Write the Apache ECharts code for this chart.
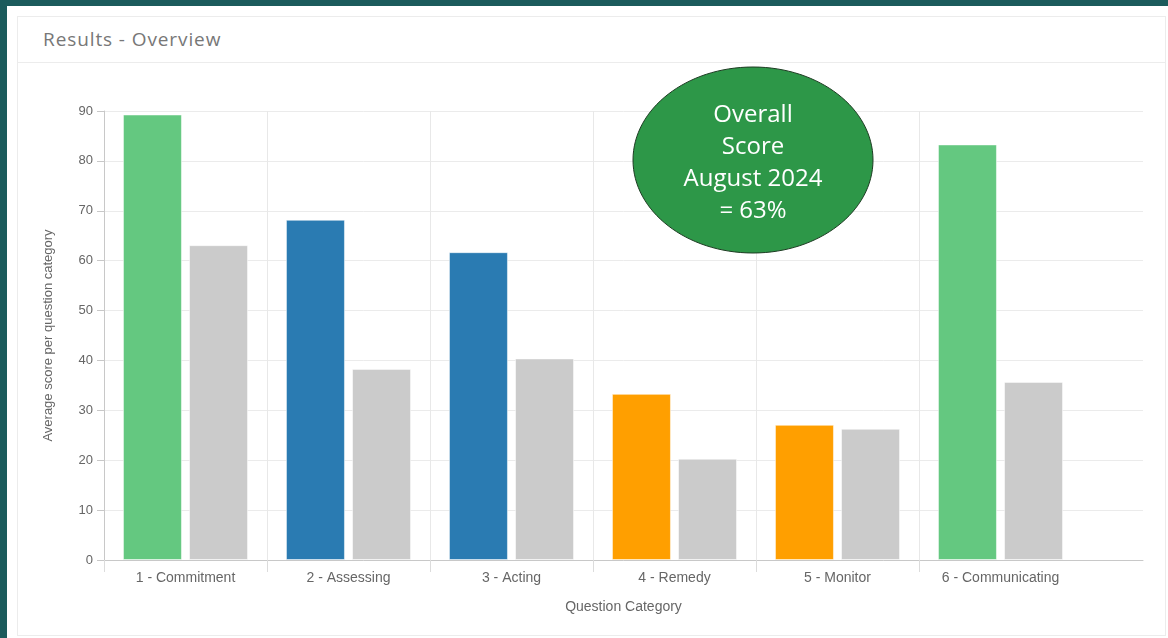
<!DOCTYPE html>
<html>
<head>
<meta charset="utf-8">
<script src="https://cdn.jsdelivr.net/npm/echarts@6/dist/echarts.min.js"></script>
<style>
  html, body { margin: 0; padding: 0; }
  body { width: 1168px; height: 638px; background: #1b5b5c; position: relative; overflow: hidden; }
  #panel { position: absolute; left: 7px; top: 6px; right: 0; bottom: 0; background: #fff; }
  #card { position: absolute; left: 17px; top: 16px; width: 1149px; height: 620px; border: 1px solid #ececec; box-sizing: border-box; }
  #head { position: absolute; left: 0; top: 0; right: 0; height: 45px; border-bottom: 1px solid #ececec; }
  #head span { position: absolute; left: 25px; top: 9px; font-family: "Open Sans", sans-serif; font-size: 19px; letter-spacing: 0.9px; color: #777; }
  #chart { position: absolute; left: 0; top: 0; width: 1168px; height: 638px; }
</style>
</head>
<body>
<div id="panel"></div>
<div id="card"><div id="head"><span>Results - Overview</span></div></div>
<div id="chart"></div>
<script>
// 数据
var categories = ["1 - Commitment", "2 - Assessing", "3 - Acting", "4 - Remedy", "5 - Monitor", "6 - Communicating"];
var scores = [89.3, 68.2, 61.7, 33.3, 27.1, 83.3];
var benchmark = [63.1, 38.3, 40.4, 20.3, 26.3, 35.7];
var barColors = ["#64c880", "#2a7bb2", "#2a7bb2", "#ff9f00", "#ff9f00", "#64c880"];
var yTicks = { min: 0, max: 90, step: 10 };
var noteLines = ["Overall", "Score", "August 2024", "= 63%"];

var chart = echarts.init(document.getElementById("chart"));

var font = "Liberation Sans, Arial, sans-serif";
var plotLeft = 104, catWidth = 163, plotWidth = 1039;

var option = {
  animation: false,
  grid: [
    { left: plotLeft, top: 111, width: catWidth * categories.length, height: 449 },   // 柱子
    { left: plotLeft, top: 111, width: plotWidth, height: 449 }                        // 横向网格线 + x轴线
  ],
  xAxis: [
    {
      type: "category",
      gridIndex: 0,
      data: categories,
      axisLine: { show: false },
      axisTick: { show: false },
      axisLabel: { color: "#666", fontSize: 14, fontFamily: font, margin: 11 },
      splitLine: { show: true, showMaxLine: false, lineStyle: { color: "#e8e8e8" } }
    },
    {
      type: "value",
      gridIndex: 1,
      min: 0,
      max: plotWidth / catWidth,
      axisLine: { show: true, onZero: false, lineStyle: { color: "#c8c8c8" } },
      axisTick: {
        show: true,
        length: 12,
        customValues: categories.map(function (c, i) { return i; }),
        lineStyle: { color: "#dcdcdc" }
      },
      axisLabel: { show: false },
      splitLine: { show: false },
      name: "Question Category",
      nameLocation: "middle",
      nameGap: 40,
      nameTextStyle: { color: "#666", fontSize: 14, fontFamily: font }
    }
  ],
  yAxis: [
    {
      type: "value",
      gridIndex: 0,
      min: yTicks.min,
      max: yTicks.max,
      interval: yTicks.step,
      axisLine: { show: true, lineStyle: { color: "#c8c8c8" } },
      axisTick: { show: true, length: 7, lineStyle: { color: "#c8c8c8" } },
      axisLabel: { color: "#666", fontSize: 13, fontFamily: font, margin: 11 },
      splitLine: { show: false },
      name: "Average score per question category",
      nameLocation: "middle",
      nameGap: 49,
      nameTextStyle: { color: "#666", fontSize: 13, fontFamily: font }
    },
    {
      type: "value",
      gridIndex: 1,
      min: yTicks.min,
      max: yTicks.max,
      interval: yTicks.step,
      axisLine: { show: false },
      axisTick: { show: false },
      axisLabel: { show: false },
      splitLine: { show: true, lineStyle: { color: "#ebebeb" } }
    }
  ],
  series: [
    {
      name: "Score",
      type: "bar",
      xAxisIndex: 0,
      yAxisIndex: 0,
      barWidth: 59,
      barGap: "12%",
      data: scores.map(function (v, i) {
        return { value: v, itemStyle: { color: barColors[i], borderColor: "rgba(255,255,255,0.5)", borderWidth: 1 } };
      })
    },
    {
      name: "Benchmark",
      type: "bar",
      xAxisIndex: 0,
      yAxisIndex: 0,
      barWidth: 59,
      data: benchmark,
      itemStyle: { color: "#cbcbcb", borderColor: "rgba(255,255,255,0.5)", borderWidth: 1 }
    }
  ],
  graphic: [
    {
      type: "ellipse",
      shape: { cx: 753, cy: 160, rx: 120, ry: 93 },
      style: { fill: "#2d9748", stroke: "#1d3b22", lineWidth: 1 },
      z: 100
    },
    {
      type: "text",
      x: 753,
      y: 163,
      z: 101,
      style: {
        text: noteLines.join("\n"),
        fill: "#fff",
        font: "24px 'Open Sans', sans-serif",
        lineHeight: 32,
        align: "center",
        verticalAlign: "middle"
      }
    }
  ]
};

chart.setOption(option);
</script>
</body>
</html>
